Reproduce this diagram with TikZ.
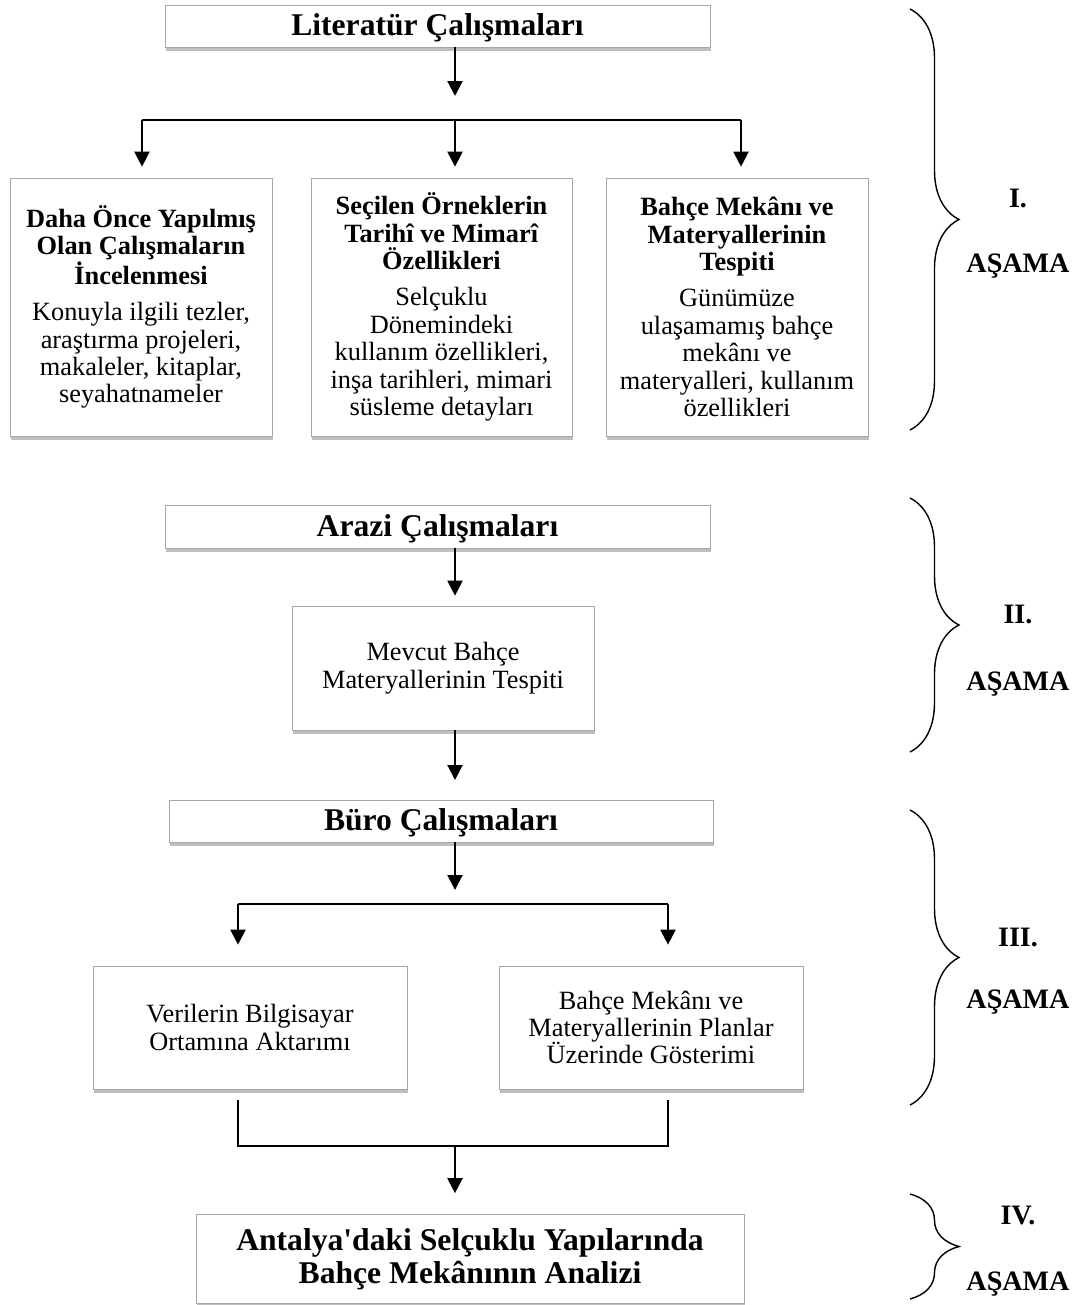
\documentclass[tikz,border=0pt]{standalone}
\usepackage{fontspec}
\setmainfont{Liberation Serif}
\usetikzlibrary{arrows.meta, shadows, decorations.pathreplacing}
\tikzstyle{baslik} = [draw=gray!70, fill=white, drop shadow={shadow xshift=0.6pt, shadow yshift=-2.4pt, opacity=0.5}, font=\fontsize{18}{18.7}\selectfont\bfseries, align=center, inner sep=0pt]
\tikzstyle{kutu} = [draw=gray!70, fill=white, drop shadow={shadow xshift=0.6pt, shadow yshift=-2.4pt, opacity=0.5}, font=\fontsize{15}{15.6}\selectfont, align=center, inner sep=0pt]
\tikzstyle{tek} = [text height=11pt, text depth=0pt]
\tikzstyle{ok} = [-{Triangle[width=8.5pt, length=8.5pt]}, line width=1.2pt]
\tikzstyle{hat} = [line width=0.9pt]
\tikzstyle{parantez} = [decorate, decoration={brace, amplitude=0.98cm}, line width=0.8pt]
\tikzstyle{asama} = [font=\fontsize{16}{16}\selectfont\bfseries]

\begin{document}
\begin{tikzpicture}[x=0.02cm, y=-0.02cm]
  \useasboundingbox (0,0) rectangle (1076,1305);
  \coordinate (eksen) at (455,0);

  % I. asama
  \node[baslik, tek, minimum width=10.9cm, minimum height=0.84cm] (lit) at (437.5,26) {Literatür Çalışmaları};
  \node[kutu, minimum width=5.24cm, minimum height=5.16cm] (onceki) at (141,307)
    {\textbf{Daha Önce Yapılmış}\\ \textbf{Olan Çalışmaların}\\ \textbf{İncelenmesi}\\[5pt]
     Konuyla ilgili tezler,\\ araştırma projeleri,\\ makaleler, kitaplar,\\ seyahatnameler};
  \node[kutu, minimum width=5.22cm, minimum height=5.16cm] (ornek) at (441.5,307)
    {\textbf{Seçilen Örneklerin}\\ \textbf{Tarihî ve Mimarî}\\ \textbf{Özellikleri}\\[5pt]
     Selçuklu\\ Dönemindeki\\ kullanım özellikleri,\\ inşa tarihleri, mimari\\ süsleme detayları};
  \node[kutu, minimum width=5.24cm, minimum height=5.16cm] (mekan) at (737,307)
    {\textbf{Bahçe Mekânı ve}\\ \textbf{Materyallerinin}\\ \textbf{Tespiti}\\[5pt]
     Günümüze\\ ulaşamamış bahçe\\ mekânı ve\\ materyalleri, kullanım\\ özellikleri};

  \coordinate (ok1) at (455,96);
  \coordinate (b1l) at (142,120);
  \coordinate (b1m) at (455,120);
  \coordinate (b1r) at (741,120);
  \draw[ok] (lit.south -| ok1) -- (ok1);
  \draw[hat] (b1l) -- (b1r);
  \draw[ok, shorten >=0.22cm] (b1l) -- (b1l |- onceki.north);
  \draw[ok, shorten >=0.22cm] (b1m) -- (b1m |- ornek.north);
  \draw[ok, shorten >=0.22cm] (b1r) -- (b1r |- mekan.north);

  % II. asama
  \node[baslik, tek, minimum width=10.9cm, minimum height=0.86cm] (arazi) at (437.5,526.5) {Arazi Çalışmaları};
  \node[kutu, minimum width=6.04cm, minimum height=2.48cm] (mevcut) at (443,668)
    {Mevcut Bahçe\\ Materyallerinin Tespiti};
  \draw[ok, shorten >=0.2cm] (arazi.south -| eksen) -- (mevcut.north -| eksen);
  \draw[ok, shorten >=0.4cm] (mevcut.south -| eksen) -- (eksen |- 0,800);

  % III. asama
  \node[baslik, tek, minimum width=10.88cm, minimum height=0.84cm] (buro) at (441,821) {Büro Çalışmaları};
  \node[kutu, minimum width=6.28cm, minimum height=2.46cm] (veri) at (250,1027.5)
    {Verilerin Bilgisayar\\ Ortamına Aktarımı};
  \node[kutu, minimum width=6.08cm, minimum height=2.46cm] (plan) at (651,1027.5)
    {Bahçe Mekânı ve\\ Materyallerinin Planlar\\ Üzerinde Gösterimi};

  \coordinate (ok2) at (455,890);
  \coordinate (b2l) at (238,904);
  \coordinate (b2r) at (668,904);
  \draw[ok] (buro.south -| ok2) -- (ok2);
  \draw[hat] (b2l) -- (b2r);
  \draw[ok, shorten >=0.42cm] (b2l) -- (b2l |- veri.north);
  \draw[ok, shorten >=0.42cm] (b2r) -- (b2r |- plan.north);

  % IV. asama
  \node[baslik, minimum width=10.96cm, minimum height=1.78cm] (analiz) at (470,1259)
    {Antalya\textquotesingle daki Selçuklu Yapılarında\\ Bahçe Mekânının Analizi};

  \coordinate (v1) at (238,1100);
  \coordinate (p1) at (668,1100);
  \coordinate (b3m) at (455,1146);
  \draw[hat] (v1) -- (v1 |- b3m) -- (p1 |- b3m) -- (p1);
  \draw[ok, shorten >=0.42cm] (b3m) -- (b3m |- analiz.north);

  % parantezler
  \draw[parantez] (910,9) -- (910,430);
  \draw[parantez] (910,498) -- (910,752);
  \draw[parantez] (910,810) -- (910,1105);
  \draw[parantez] (910,1194) -- (910,1299);

  \node[asama] (a1) at (1018,198) {I.};
  \node[asama] (a1b) at (1018,266) {AŞAMA};
  \node[asama] (a2) at (1018,614) {II.};
  \node[asama] (a2b) at (1018,684) {AŞAMA};
  \node[asama] (a3) at (1018,937) {III.};
  \node[asama] (a3b) at (1018,1002) {AŞAMA};
  \node[asama] (a4) at (1018,1215) {IV.};
  \node[asama] (a4b) at (1018,1284) {AŞAMA};
\end{tikzpicture}
\end{document}
